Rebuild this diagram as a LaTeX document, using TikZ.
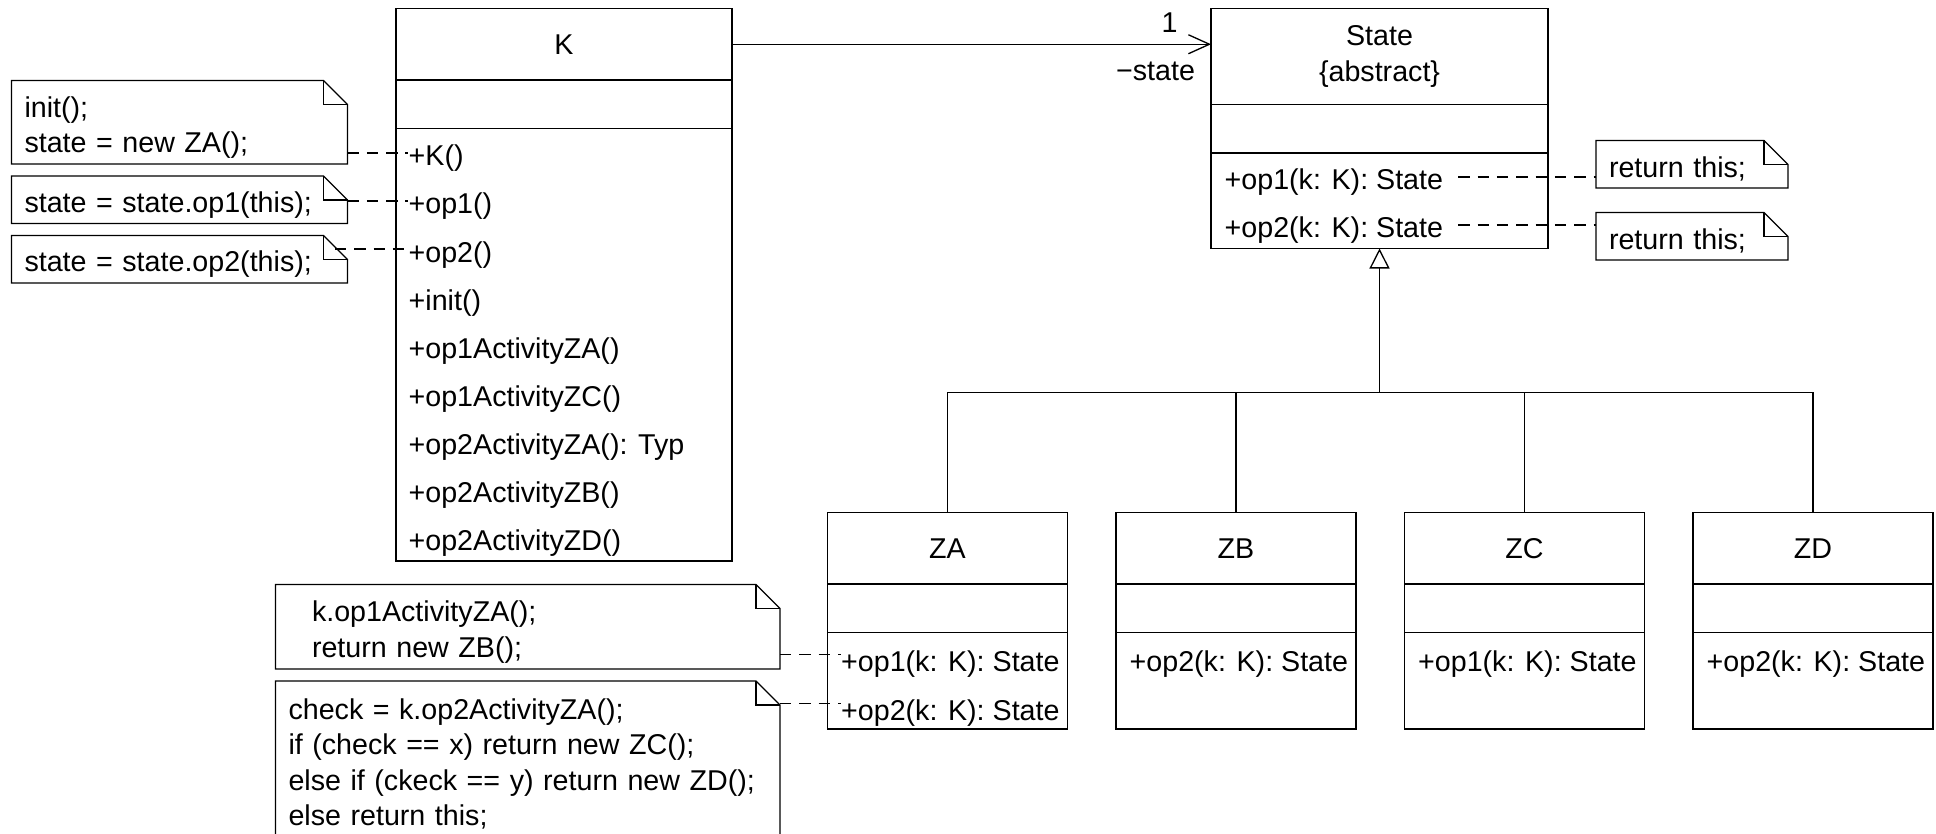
\documentclass[tikz,border=0pt]{standalone}
\usepackage{fontspec}
\setmainfont{Liberation Sans}
\usetikzlibrary{positioning}
\usetikzlibrary{calc}
\usetikzlibrary{arrows.meta}

\tikzset{
  umlbox/.style={draw, rectangle, inner sep=0pt, outer sep=0pt, minimum width=#1},
  oprow/.style={anchor=west, inner sep=0pt, text height=#1, text depth=0.1cm},
  oprow/.default=0.62cm,
  umlnote/.style={anchor=north west, align=left, inner xsep=0.26cm, inner ysep=0pt, outer sep=0pt},
  notetext/.style={execute at begin node={\rule{0pt}{0.62cm}}},
  notelink/.style={dash pattern=on 6.5pt off 4.5pt},
  assoc/.style={-{Straight Barb[length=0.42cm,width=0.38cm]}},
  inherit/.style={-{Triangle[open,length=0.4cm,width=0.4cm]}}
}

% outline of a note with the folded corner (#1 = extra length at the bottom)
\newcommand{\notebox}[2][0pt]{%
  \draw (#2.north west) -- ([xshift=-0.48cm]#2.north east) -- ([yshift=-0.48cm]#2.north east)
    -- ([yshift=-#1]#2.south east) -- ([yshift=-#1]#2.south west) -- cycle;
  \draw ([xshift=-0.48cm]#2.north east) |- ([yshift=-0.48cm]#2.north east);
}

\begin{document}
\begin{tikzpicture}[line width=0.75pt, font=\fontsize{16.3pt}{20.2pt}\selectfont]
  \useasboundingbox (0,0) rectangle (38.72,-16.66);
  \clip (0,0) rectangle (38.72,-16.66);

  % class K
  \node[umlbox=6.72cm, minimum height=1.43cm, anchor=north west] (K) at (7.92,-0.17) {K};
  \node[umlbox=6.72cm, minimum height=0.97cm, below=0pt of K] (K-attr) {};
  \node[umlbox=6.72cm, minimum height=8.65cm, below=0pt of K-attr] (K-ops) {};
  \foreach \op [count=\i] in {+K(), +op1(), +op2(), +init(), +op1ActivityZA(), +op1ActivityZC(),
      +op2ActivityZA(): Typ, +op2ActivityZB(), +op2ActivityZD()}
    \node[oprow] (kop\i) at ($(K-ops.north west)+(0.24,{-0.49-0.96*(\i-1)})$) {\op};

  % class State
  \node[umlbox=6.74cm, minimum height=1.92cm, anchor=north west, align=center] (State) at (24.22,-0.17) {State\\\{abstract\}};
  \node[umlbox=6.74cm, minimum height=0.97cm, below=0pt of State] (State-attr) {};
  \node[umlbox=6.74cm, minimum height=1.91cm, below=0pt of State-attr] (State-ops) {};
  \node[oprow=0.6cm] (sop1) at ($(State-ops.north west)+(0.26,-0.48)$) {+op1(k: K): State};
  \node[oprow=0.6cm] (sop2) at ($(State-ops.north west)+(0.26,-1.44)$) {+op2(k: K): State};

  % association
  \draw[assoc] (K.east) -- (K.east -| State.west);
  \node (mult) at ($(K.east -| State.west)+(-0.83,0.43)$) {1};
  \node (role) at ($(K.east -| State.west)+(-1.11,-0.54)$) {−state};

  % subclasses
  \node[umlbox=4.8cm, minimum height=1.43cm, anchor=north west] (ZA) at (16.55,-10.25) {ZA};
  \foreach \z/\p in {ZB/ZA, ZC/ZB, ZD/ZC}
    \node[umlbox=4.8cm, minimum height=1.43cm, right=0.97cm of \p] (\z) {\z};
  \foreach \z in {ZA, ZB, ZC, ZD} {
    \node[umlbox=4.8cm, minimum height=0.97cm, below=0pt of \z] (\z-attr) {};
    \node[umlbox=4.8cm, minimum height=1.93cm, below=0pt of \z-attr] (\z-ops) {};
  }
  \node[oprow=0.78cm] (za1) at ($(ZA-ops.north west)+(0.26,-0.44)$) {+op1(k: K): State};
  \node[oprow=0.78cm] (za2) at ($(ZA-ops.north west)+(0.26,-1.42)$) {+op2(k: K): State};
  \node[oprow=0.78cm] (zb1) at ($(ZB-ops.north west)+(0.26,-0.44)$) {+op2(k: K): State};
  \node[oprow=0.78cm] (zc1) at ($(ZC-ops.north west)+(0.26,-0.44)$) {+op1(k: K): State};
  \node[oprow=0.78cm] (zd1) at ($(ZD-ops.north west)+(0.26,-0.44)$) {+op2(k: K): State};

  % generalization
  \coordinate (bus) at ($(State-ops.south)+(0,-2.88)$);
  \draw[inherit] (bus) -- (State-ops.south);
  \draw (ZA.north) |- (bus) -| (ZD.north);
  \draw (ZB.north) -- (ZB.north |- bus);
  \draw (ZC.north) -- (ZC.north |- bus);

  % notes for K
  \node[umlnote, notetext, text width=6.2cm, minimum height=1.67cm] (noteA) at (0.23,-1.61) {init();\\state = new ZA();};
  \node[umlnote, notetext, text width=6.2cm, minimum height=0.95cm, below=0.24cm of noteA] (noteB) {state = state.op1(this);};
  \node[umlnote, notetext, text width=6.2cm, minimum height=0.95cm, below=0.24cm of noteB] (noteC) {state = state.op2(this);};
  \notebox{noteA}
  \notebox{noteB}
  \notebox{noteC}
  \draw[notelink] (noteA.east |- kop1.west) -- (kop1.west);
  \draw[notelink] (noteB.east |- kop2.west) -- (kop2.west);
  \draw[notelink] ($(noteC.east |- kop3.west)+(-0.25,0)$) -- (kop3.west);

  % notes for State
  \node[umlnote, notetext, text width=3.32cm, minimum height=0.95cm] (rnote1) at (31.92,-2.81) {return this;};
  \node[umlnote, notetext, text width=3.32cm, minimum height=0.95cm] (rnote2) at (31.92,-4.25) {return this;};
  \notebox{rnote1}
  \notebox{rnote2}
  \draw[notelink] ($(sop1.east)+(0.29,0)$) -- (rnote1.west |- sop1.east);
  \draw[notelink] ($(sop2.east)+(0.29,0)$) -- (rnote2.west |- sop2.east);

  % notes for ZA
  \node[umlnote, notetext, inner xsep=0.73cm, text width=8.63cm, minimum height=1.69cm] (noteD) at (5.51,-11.69) {k.op1ActivityZA();\\return new ZB();};
  \node[umlnote, inner ysep=0.35cm, text width=9.57cm, below=0.24cm of noteD] (noteE) {check = k.op2ActivityZA();\\if (check == x) return new ZC();\\else if (ckeck == y) return new ZD();\\else return this;};
  \notebox{noteD}
  \notebox[2cm]{noteE}
  \draw[notelink] (noteD.east |- za1.west) -- (za1.west);
  \draw[notelink] (noteE.east |- za2.west) -- (za2.west);
\end{tikzpicture}
\end{document}
